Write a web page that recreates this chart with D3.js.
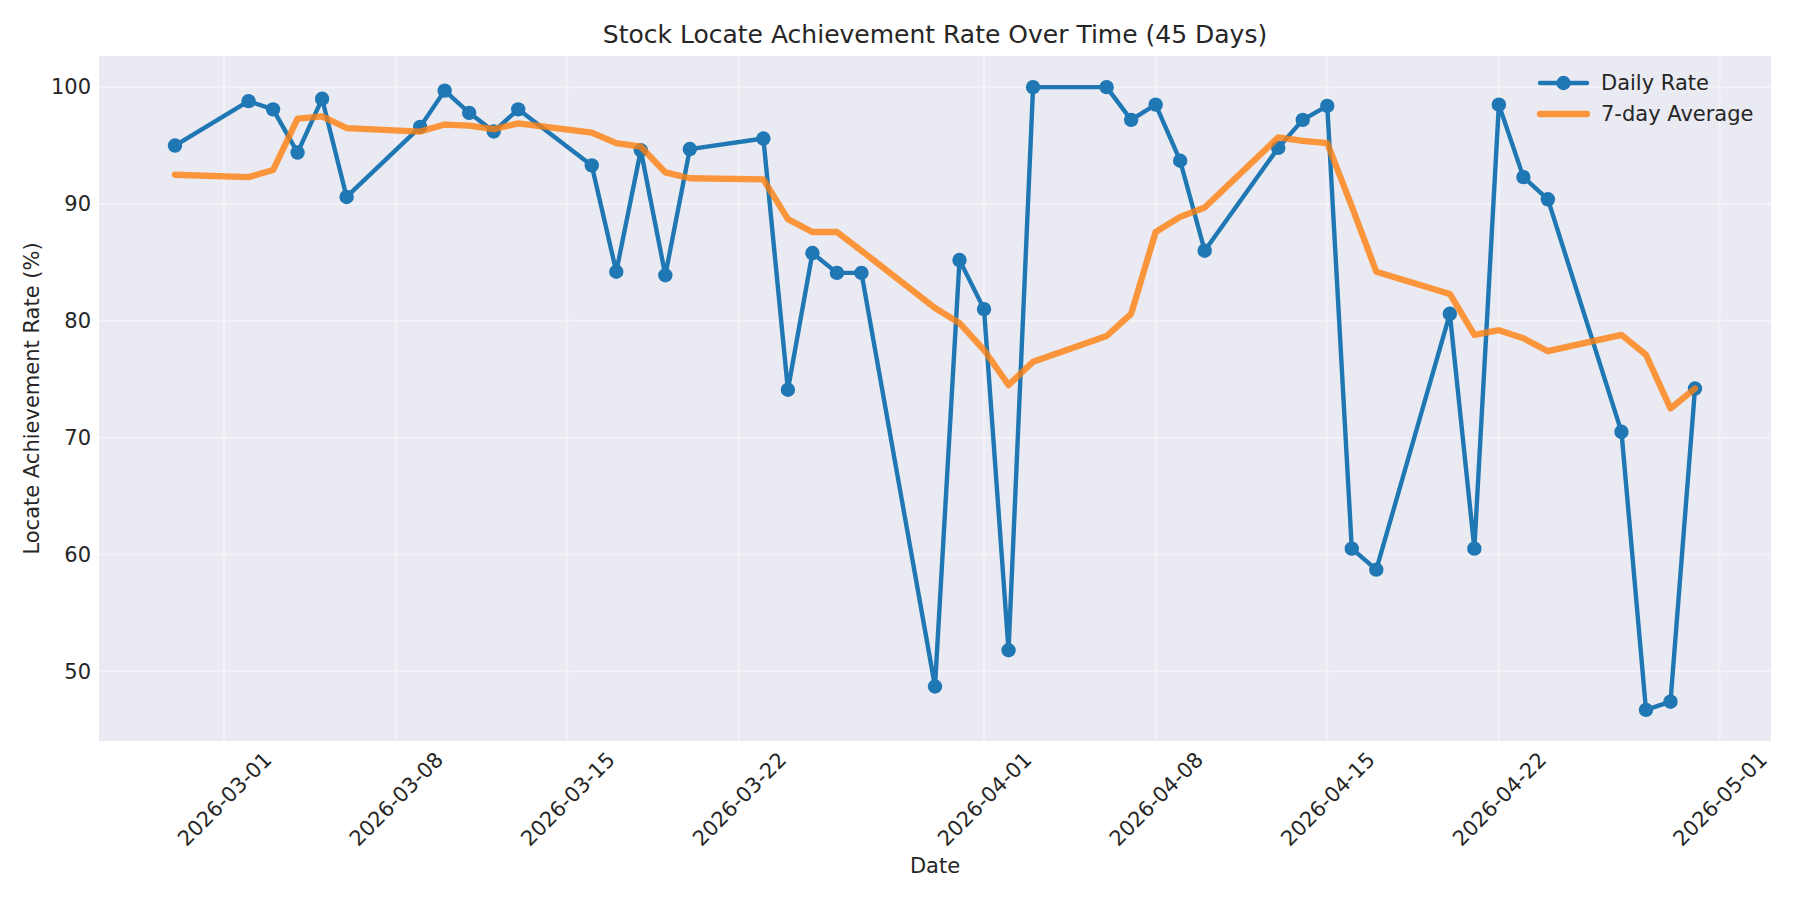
<!DOCTYPE html>
<html>
<head>
<meta charset="utf-8">
<script src="https://cdn.jsdelivr.net/npm/d3@7"></script>
<style>
  body { margin: 0; background: #fff; }
  svg { display: block; font-family: "DejaVu Sans", sans-serif; }
</style>
</head>
<body>
<svg width="1800" height="900"></svg>
<script>
// business days, 45 of them
const dates = [
  "2026-02-27",
  "2026-03-02", "2026-03-03", "2026-03-04", "2026-03-05", "2026-03-06",
  "2026-03-09", "2026-03-10", "2026-03-11", "2026-03-12", "2026-03-13",
  "2026-03-16", "2026-03-17", "2026-03-18", "2026-03-19", "2026-03-20",
  "2026-03-23", "2026-03-24", "2026-03-25", "2026-03-26", "2026-03-27",
  "2026-03-30", "2026-03-31", "2026-04-01", "2026-04-02", "2026-04-03",
  "2026-04-06", "2026-04-07", "2026-04-08", "2026-04-09", "2026-04-10",
  "2026-04-13", "2026-04-14", "2026-04-15", "2026-04-16", "2026-04-17",
  "2026-04-20", "2026-04-21", "2026-04-22", "2026-04-23", "2026-04-24",
  "2026-04-27", "2026-04-28", "2026-04-29", "2026-04-30"
];
const dailyRate = [
  95.0, 98.8, 98.1, 94.4, 99.0, 90.6, 96.6, 99.7, 97.8, 96.2,
  98.1, 93.3, 84.2, 94.6, 83.9, 94.7, 95.6, 74.1, 85.8, 84.1,
  84.1, 48.7, 85.2, 81.0, 51.8, 100.0, 100.0, 97.2, 98.5, 93.7,
  86.0, 94.8, 97.2, 98.4, 60.5, 58.7, 80.6, 60.5, 98.5, 92.3,
  90.4, 70.5, 46.7, 47.4, 74.2
];
const weekAvg = [
  92.5, 92.3, 92.9, 97.3, 97.5, 96.5, 96.2, 96.8, 96.7, 96.4,
  96.9, 96.1, 95.2, 94.9, 92.7, 92.2, 92.1, 88.7, 87.6, 87.6,
  86.0, 81.1, 79.8, 77.5, 74.5, 76.5, 78.7, 80.6, 87.6, 88.9,
  89.7, 95.7, 95.4, 95.2, 89.8, 84.2, 82.3, 78.8, 79.2, 78.5,
  77.4, 78.8, 77.1, 72.5, 74.2
];
const xTickLabels = [
  "2026-03-01", "2026-03-08", "2026-03-15", "2026-03-22", "2026-04-01",
  "2026-04-08", "2026-04-15", "2026-04-22", "2026-05-01"
];
const yTicks = [50, 60, 70, 80, 90, 100];
const seriesNames = ["Daily Rate", "7-day Average"];

const parse = d3.utcParse("%Y-%m-%d");
const rows = dates.map((d, i) => ({ date: parse(d), rate: dailyRate[i], avg: weekAvg[i] }));

const plot = { left: 99, right: 1771, top: 56, bottom: 741 };
const svg = d3.select("svg");
const textColor = "#262626";

// 5% padding like matplotlib
const xExt = d3.extent(rows, d => +d.date);
const xPad = (xExt[1] - xExt[0]) * 0.05;
const x = d3.scaleUtc()
  .domain([new Date(xExt[0] - xPad), new Date(xExt[1] + xPad)])
  .range([plot.left, plot.right]);

const yMin = d3.min(rows, d => Math.min(d.rate, d.avg));
const yMax = d3.max(rows, d => Math.max(d.rate, d.avg));
const yPad = (yMax - yMin) * 0.05;
const y = d3.scaleLinear()
  .domain([yMin - yPad, yMax + yPad])
  .range([plot.bottom, plot.top]);

svg.append("rect")
  .attr("x", plot.left).attr("y", plot.top)
  .attr("width", plot.right - plot.left).attr("height", plot.bottom - plot.top)
  .attr("fill", "#eaeaf2");

const xTicks = xTickLabels.map(parse);

// grid
const grid = svg.append("g").attr("stroke", "#fff").attr("stroke-opacity", 0.4).attr("stroke-width", 2);
grid.selectAll(".gx").data(xTicks).enter().append("line")
  .attr("x1", d => x(d)).attr("x2", d => x(d))
  .attr("y1", plot.top).attr("y2", plot.bottom);
grid.selectAll(".gy").data(yTicks).enter().append("line")
  .attr("x1", plot.left).attr("x2", plot.right)
  .attr("y1", d => y(d)).attr("y2", d => y(d));

// axes (no domain, no tick marks)
const xAxis = svg.append("g")
  .attr("transform", `translate(0,${plot.bottom})`)
  .call(d3.axisBottom(x).tickValues(xTicks).tickFormat(d3.utcFormat("%Y-%m-%d")).tickSize(0));
xAxis.select(".domain").remove();
xAxis.selectAll("text")
  .attr("font-size", 21)
  .attr("font-family", "DejaVu Sans")
  .attr("fill", textColor)
  .attr("text-anchor", "middle")
  .attr("y", 0).attr("dy", "0.35em")
  .attr("transform", "translate(0,58) rotate(-45)");

const yAxis = svg.append("g")
  .attr("transform", `translate(${plot.left},0)`)
  .call(d3.axisLeft(y).tickValues(yTicks).tickSize(0).tickPadding(8));
yAxis.select(".domain").remove();
yAxis.selectAll("text")
  .attr("font-size", 21)
  .attr("font-family", "DejaVu Sans")
  .attr("fill", textColor);

// lines
const lineRate = d3.line().x(d => x(d.date)).y(d => y(d.rate));
const lineAvg = d3.line().x(d => x(d.date)).y(d => y(d.avg));

svg.append("path")
  .datum(rows)
  .attr("d", lineRate)
  .attr("fill", "none")
  .attr("stroke", "#1f77b4")
  .attr("stroke-width", 4.4)
  .attr("stroke-linejoin", "round")
  .attr("stroke-linecap", "round");

svg.append("g").selectAll("circle")
  .data(rows)
  .enter()
  .append("circle")
  .attr("cx", d => x(d.date))
  .attr("cy", d => y(d.rate))
  .attr("r", 7.2)
  .attr("fill", "#1f77b4");

svg.append("path")
  .datum(rows)
  .attr("d", lineAvg)
  .attr("fill", "none")
  .attr("stroke", "#ff7f0e")
  .attr("stroke-opacity", 0.8)
  .attr("stroke-width", 6.3)
  .attr("stroke-linejoin", "round")
  .attr("stroke-linecap", "round");

// title & labels
svg.append("text")
  .attr("x", (plot.left + plot.right) / 2).attr("y", 43)
  .attr("text-anchor", "middle")
  .attr("font-size", 25)
  .attr("fill", textColor)
  .text("Stock Locate Achievement Rate Over Time (45 Days)");

svg.append("text")
  .attr("x", (plot.left + plot.right) / 2).attr("y", 873)
  .attr("text-anchor", "middle")
  .attr("font-size", 21)
  .attr("fill", textColor)
  .text("Date");

svg.append("text")
  .attr("transform", `translate(39,${(plot.top + plot.bottom) / 2}) rotate(-90)`)
  .attr("text-anchor", "middle")
  .attr("font-size", 21)
  .attr("fill", textColor)
  .text("Locate Achievement Rate (%)");

// legend
const legend = svg.append("g").attr("transform", "translate(1540,83)");
const legendItems = legend.selectAll("g")
  .data(seriesNames)
  .enter()
  .append("g")
  .attr("transform", (d, i) => `translate(0,${i * 31})`);
legendItems.append("line")
  .attr("x1", 0).attr("x2", 47)
  .attr("stroke", (d, i) => i === 0 ? "#1f77b4" : "#ff7f0e")
  .attr("stroke-opacity", (d, i) => i === 0 ? 1 : 0.8)
  .attr("stroke-width", (d, i) => i === 0 ? 4.4 : 6.3)
  .attr("stroke-linecap", "round");
legendItems.filter((d, i) => i === 0).append("circle")
  .attr("cx", 23.5).attr("cy", 0).attr("r", 7.2)
  .attr("fill", "#1f77b4");
legendItems.append("text")
  .attr("x", 61).attr("dy", "0.35em")
  .attr("font-size", 21)
  .attr("fill", textColor)
  .text(d => d);
</script>
</body>
</html>
